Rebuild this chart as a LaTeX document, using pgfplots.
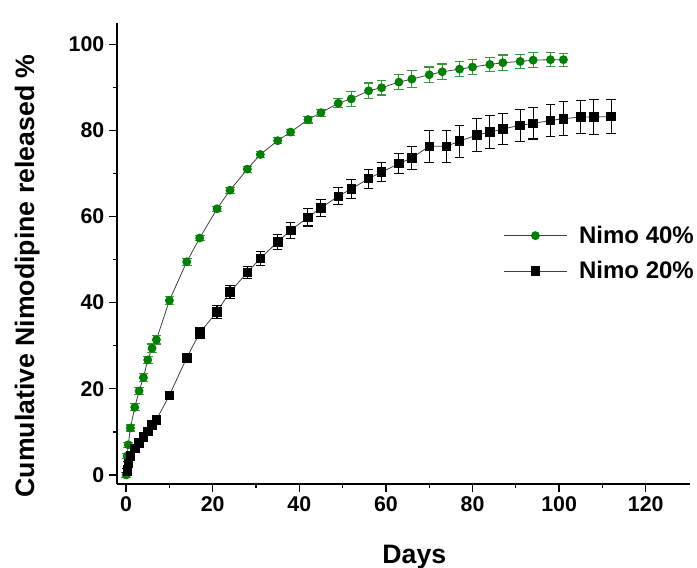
\documentclass[border=0pt]{standalone}
\usepackage{fontspec}
\setmainfont{Liberation Sans}
\usepackage{pgfplots}
\pgfplotsset{compat=1.18}
\usepackage{pgfplotstable}

\definecolor{nimogreen}{RGB}{0,128,0}

% days, released %, error
\pgfplotstableread{
d v e
0 0 0.5
0.25 4.4 0.6
0.5 7.0 0.6
1 10.9 0.7
2 15.7 0.8
3 19.5 0.8
4 22.6 0.9
5 26.7 0.9
6 29.4 1.0
7 31.4 1.0
10 40.5 0.9
14 49.5 0.8
17 55.0 0.6
21 61.8 0.6
24 66.1 0.7
28 71.0 0.7
31 74.4 0.7
35 77.6 0.7
38 79.6 0.7
42 82.5 0.8
45 84.1 0.8
49 86.3 1.0
52 87.3 1.8
56 89.2 1.8
59 89.9 1.7
63 91.2 1.8
66 91.9 1.9
70 92.9 1.8
73 93.6 1.8
77 94.2 1.8
80 94.7 1.7
84 95.3 1.7
87 95.7 1.8
91 96.0 1.7
94 96.3 1.7
98 96.4 1.6
101 96.4 1.5
}\nimoforty

\pgfplotstableread{
d v e
0.25 1.0 0.4
0.5 2.7 0.4
1 4.4 0.5
2 6.2 0.5
3 7.5 0.5
4 8.8 0.5
5 10.1 0.5
6 11.6 0.6
7 12.8 0.6
10 18.5 0.8
14 27.2 1.0
17 33.0 1.2
21 37.9 1.5
24 42.5 1.5
28 47.0 1.5
31 50.3 1.6
35 54.1 1.7
38 56.8 1.8
42 59.8 2.0
45 62.0 2.0
49 64.7 2.0
52 66.4 2.2
56 68.8 2.2
59 70.3 2.2
63 72.3 2.3
66 73.6 2.6
70 76.3 3.7
74 76.3 3.7
77 77.5 3.7
81 78.9 3.8
84 79.6 3.8
87 80.3 3.6
91 81.2 3.7
94 81.6 3.6
98 82.3 3.8
101 82.7 3.9
105 83.1 3.9
108 83.1 4.1
112 83.2 4.0
}\nimotwenty

\begin{document}
\begin{tikzpicture}
\useasboundingbox (-87.75pt,-63pt) rectangle (435pt,363pt);
\begin{axis}[
    at={(0,0)}, anchor=south west,
    scale only axis,
    width=430pt, height=346pt,
    xmin=-2.1, xmax=130.3,
    ymin=-2.1, ymax=105,
    axis x line*=bottom, axis y line*=left,
    axis line style={line width=1.1pt},
    xtick={0,20,...,120}, ytick={0,20,...,100},
    minor x tick num=1, minor y tick num=1,
    tick align=outside,
    major tick length=6pt, minor tick length=3pt,
    tick style={line width=1pt, black},
    /pgf/number format/assume math mode=true,
    ticklabel style={font=\fontsize{16}{18}\selectfont\bfseries},
    xlabel={Days},
    ylabel={Cumulative Nimodipine released \%},
    label style={font=\fontsize{20}{24}\selectfont\bfseries},
    xlabel style={yshift=-18pt, xshift=8pt},
    ylabel style={yshift=15pt, xshift=-17pt},
    legend style={at={(0.667,0.5)}, anchor=west, draw=none, fill=none,
        font=\fontsize{18}{22}\selectfont\bfseries, row sep=8pt},
    legend cell align=left,
    legend image code/.code={
        \draw[mark repeat=2,mark phase=2] plot coordinates {(0pt,0pt)(23.5pt,0pt)(47pt,0pt)};
        \path (54pt,0pt);
    },
]
\addplot[black!75, line width=0.6pt, mark=*, mark size=3pt,
    mark options={draw=nimogreen, fill=nimogreen},
    error bars/.cd, y dir=both, y explicit,
    error bar style={nimogreen!80, line width=0.8pt},
    error mark options={rotate=90, mark size=3.6pt, nimogreen!80, line width=0.8pt}]
    table[x=d, y=v, y error=e] {\nimoforty};
\addlegendentry{Nimo 40\%}
\addplot[black!75, line width=0.6pt, mark=square*, mark size=3.2pt,
    mark options={draw=black, fill=black},
    error bars/.cd, y dir=both, y explicit,
    error bar style={black, line width=0.8pt},
    error mark options={rotate=90, mark size=3.6pt, black, line width=0.8pt}]
    table[x=d, y=v, y error=e] {\nimotwenty};
\addlegendentry{Nimo 20\%}
\end{axis}
\end{tikzpicture}
\end{document}
